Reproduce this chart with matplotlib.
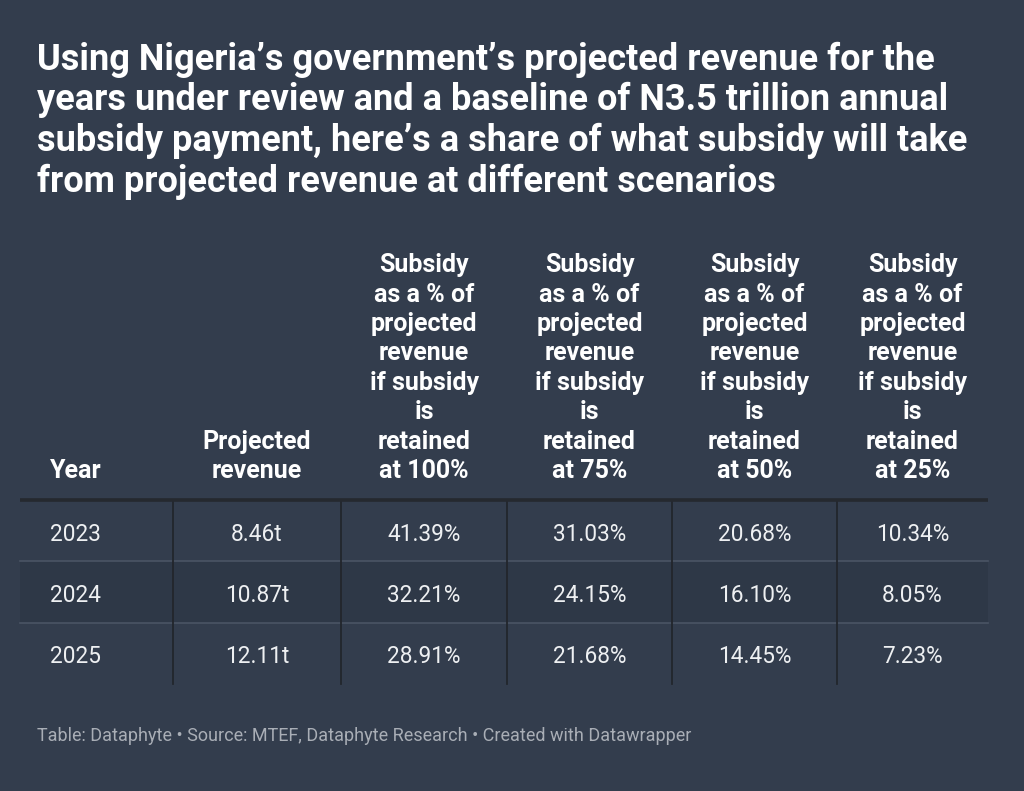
import matplotlib
matplotlib.use("Agg")
import matplotlib.pyplot as plt
from matplotlib.patches import Rectangle

# ---- data ----
title_lines = [
    "Using Nigeria\u2019s government\u2019s projected revenue for the",
    "years under review and a baseline of N3.5 trillion annual",
    "subsidy payment, here\u2019s a share of what subsidy will take",
    "from projected revenue at different scenarios",
]
years = ["2023", "2024", "2025"]
projected_revenue = ["8.46t", "10.87t", "12.11t"]
retained_100 = ["41.39%", "32.21%", "28.91%"]
retained_75 = ["31.03%", "24.15%", "21.68%"]
retained_50 = ["20.68%", "16.10%", "14.45%"]
retained_25 = ["10.34%", "8.05%", "7.23%"]
headers = [
    ["Year"],
    ["Projected", "revenue"],
    ["Subsidy", "as a % of", "projected", "revenue", "if subsidy", "is", "retained", "at 100%"],
    ["Subsidy", "as a % of", "projected", "revenue", "if subsidy", "is", "retained", "at 75%"],
    ["Subsidy", "as a % of", "projected", "revenue", "if subsidy", "is", "retained", "at 50%"],
    ["Subsidy", "as a % of", "projected", "revenue", "if subsidy", "is", "retained", "at 25%"],
]
footer = "Table: Dataphyte \u2022 Source: MTEF, Dataphyte Research \u2022 Created with Datawrapper"

columns = [years, projected_revenue, retained_100, retained_75, retained_50, retained_25]

# ---- layout ----
W, H = 1024, 791
BG = "#333d4d"
DARK_ROW = "#2e3847"
plt.rcParams["font.family"] = ["Roboto", "DejaVu Sans"]

fig = plt.figure(figsize=(W / 100, H / 100), dpi=100, facecolor=BG)
ax = fig.add_axes([0, 0, 1, 1])
ax.set_xlim(0, W)
ax.set_ylim(H, 0)
ax.axis("off")
ax.set_facecolor(BG)

# title
for i, line in enumerate(title_lines):
    ax.text(37, 70 + i * 40.5, line, fontsize=26, fontweight="bold",
            color="white", va="baseline", ha="left")

col_edges = [37, 173, 341, 507, 672, 837, 988]
header_line_y = 500
row_h = 61.3
n_rows = len(years)

# row backgrounds
for r in range(n_rows):
    if r % 2 == 1:
        y0 = header_line_y + r * row_h
        ax.add_patch(Rectangle((col_edges[0] - 17, y0), col_edges[-1] - col_edges[0] + 17, row_h,
                               facecolor=DARK_ROW, edgecolor="none", zorder=0))

# headers
last_baseline = 478
lh = 29.4
for c, lines in enumerate(headers):
    n = len(lines)
    for k, ln in enumerate(lines):
        yb = last_baseline - (n - 1 - k) * lh
        if c == 0:
            ax.text(50, yb, ln, fontsize=18, fontweight="bold", color="white",
                    ha="left", va="baseline")
        else:
            xc = (col_edges[c] + col_edges[c + 1]) / 2
            ax.text(xc, yb, ln, fontsize=18, fontweight="bold", color="white",
                    ha="center", va="baseline")

# body
for r in range(n_rows):
    yc = header_line_y + (r + 0.5) * row_h
    for c, col in enumerate(columns):
        if c == 0:
            ax.text(50, yc + 10, col[r], fontsize=16.3, color="#eef0f2",
                    ha="left", va="baseline")
        else:
            xc = (col_edges[c] + col_edges[c + 1]) / 2
            ax.text(xc, yc + 10, col[r], fontsize=16.3, color="#eef0f2",
                    ha="center", va="baseline")

# separators between rows
for r in range(1, n_rows):
    y = header_line_y + r * row_h
    ax.plot([col_edges[0] - 17, col_edges[-1]], [y, y], color="#4a5464", lw=1.2, zorder=1)

table_bottom = header_line_y + n_rows * row_h
# vertical column lines
for x in col_edges[1:-1]:
    ax.plot([x, x], [header_line_y, table_bottom], color="#22262c", lw=1.3, zorder=2)

# header bottom line
ax.plot([col_edges[0] - 17, col_edges[-1]], [header_line_y, header_line_y],
        color="#25292f", lw=2.6, zorder=3, solid_capstyle="butt")

# footer
ax.text(37, 741, footer, fontsize=13, color="#a9aeb6", ha="left", va="baseline")

fig.savefig("out.png", dpi=100, facecolor=BG)
